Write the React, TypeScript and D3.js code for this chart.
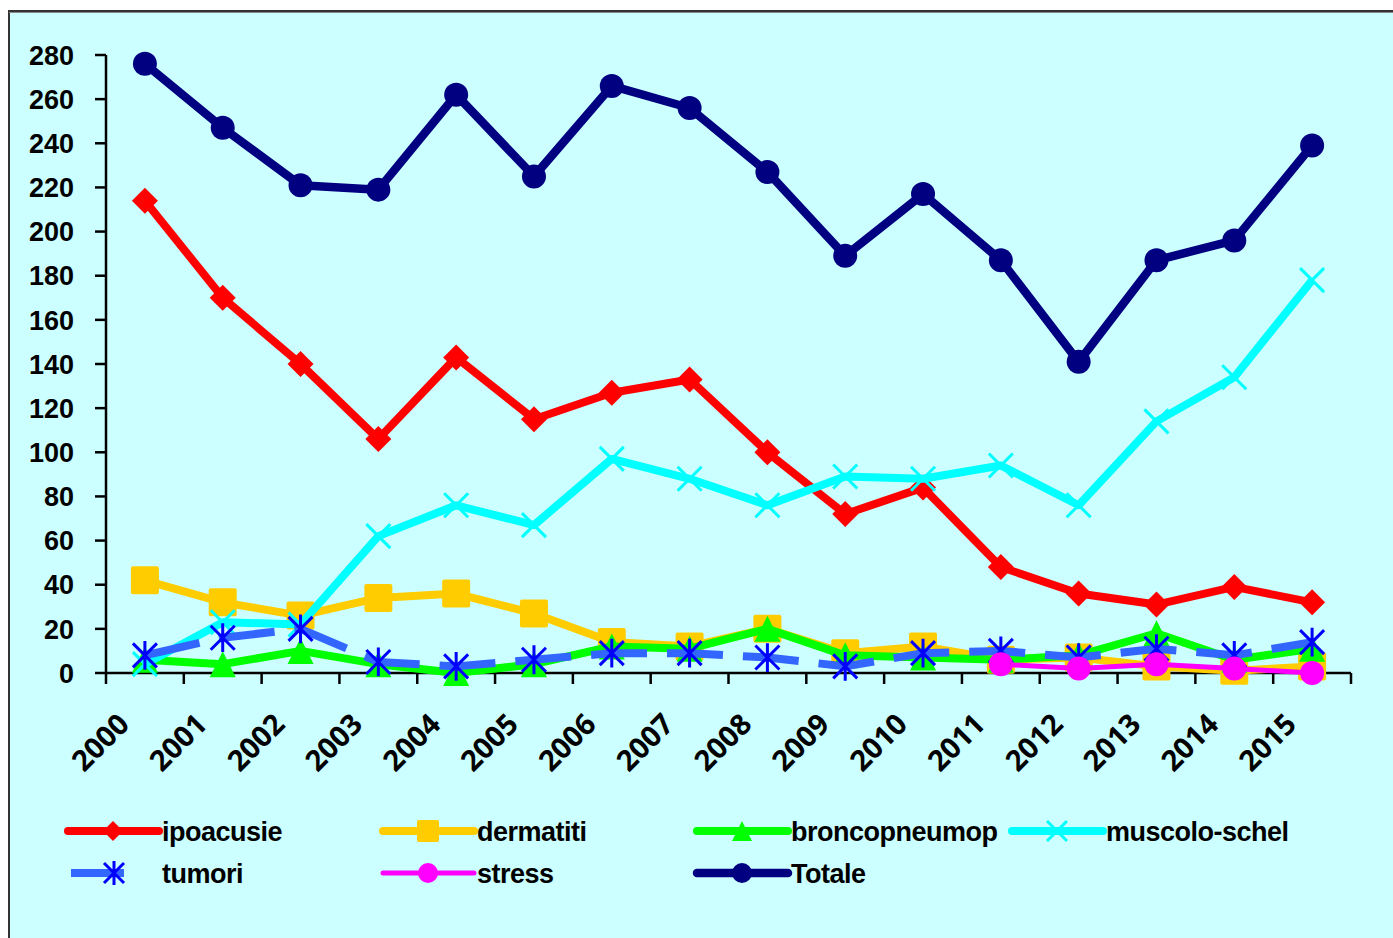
import React from 'react';
import * as d3 from 'd3';

const years = ['2000','2001','2002','2003','2004','2005','2006','2007','2008','2009','2010','2011','2012','2013','2014','2015'];
const ipoacusie = [214,170,140,106,143,115,127,133,100,72,84,48,36,31,39,32];
const dermatiti = [42,32,26,34,36,27,14,12,20,9,12,6,7,3,1,3];
const broncopneumop = [6,4,10,4,0,4,12,11,20,8,7,6,8,18,6,11];
const muscoloSchel = [4,23,22,62,76,67,97,88,76,89,88,94,76,114,134,178];
const tumori = [8,16,20,5,3,6,9,9,7,3,9,10,7,11,8,14];
const stress: (number | null)[] = [null,null,null,null,null,null,null,null,null,null,null,4,2,4,2,0];
const totale = [276,247,221,219,262,225,266,256,227,189,217,187,141,187,196,239];
const yTicks = [0,20,40,60,80,100,120,140,160,180,200,220,240,260,280];

type Marker = 'diamond' | 'square' | 'triangle' | 'x' | 'star' | 'circle';
interface Series { name: string; values: (number | null)[]; color: string; markerColor: string; width: number; marker: Marker; dash?: string; }

const series: Series[] = [
  { name: 'ipoacusie', values: ipoacusie, color: '#FF0000', markerColor: '#FF0000', width: 8, marker: 'diamond' },
  { name: 'dermatiti', values: dermatiti, color: '#FFCC00', markerColor: '#FFCC00', width: 8, marker: 'square' },
  { name: 'broncopneumop', values: broncopneumop, color: '#00FF00', markerColor: '#00FF00', width: 8, marker: 'triangle' },
  { name: 'muscolo-schel', values: muscoloSchel, color: '#00FFFF', markerColor: '#00FFFF', width: 8, marker: 'x' },
  { name: 'tumori', values: tumori, color: '#3366FF', markerColor: '#0000FF', width: 8, marker: 'star', dash: '56 20' },
  { name: 'stress', values: stress, color: '#FF00FF', markerColor: '#FF00FF', width: 5, marker: 'circle' },
  { name: 'Totale', values: totale, color: '#000080', markerColor: '#000080', width: 8.5, marker: 'circle' },
];

function drawMarker(m: Marker, cx: number, cy: number, color: string, s: number, key?: string | number) {
  const h = s / 2;
  switch (m) {
    case 'diamond':
      return <path key={key} d={`M${cx},${cy - h}L${cx + h},${cy}L${cx},${cy + h}L${cx - h},${cy}Z`} fill={color} />;
    case 'square':
      return <rect key={key} x={cx - h} y={cy - h} width={s} height={s} fill={color} rx={2} />;
    case 'triangle':
      return <path key={key} d={`M${cx},${cy - h}L${cx + h},${cy + h}L${cx - h},${cy + h}Z`} fill={color} />;
    case 'x':
      return <path key={key} d={`M${cx - h},${cy - h}L${cx + h},${cy + h}M${cx + h},${cy - h}L${cx - h},${cy + h}`} stroke={color} strokeWidth={3} fill="none" />;
    case 'star':
      return <path key={key} d={`M${cx - h},${cy - h}L${cx + h},${cy + h}M${cx + h},${cy - h}L${cx - h},${cy + h}M${cx},${cy - h * 1.2}L${cx},${cy + h * 1.2}`} stroke={color} strokeWidth={3} fill="none" />;
    case 'circle':
      return <circle key={key} cx={cx} cy={cy} r={h} fill={color} />;
  }
}

const markerSize: Record<Marker, number> = { diamond: 26, square: 28, triangle: 26, x: 24, star: 24, circle: 24 };

export default function App() {
  const W = 1393, H = 938;
  const x = d3.scaleBand<string>().domain(years).range([106, 1351]).padding(0);
  const bw = x.bandwidth();
  const cx = (yr: string) => (x(yr) as number) + bw / 2;
  const y = d3.scaleLinear().domain([0, 280]).range([673, 55]);
  const line = d3.line<number | null>()
    .defined(d => d !== null)
    .x((_, i) => cx(years[i]))
    .y(d => y(d as number));

  const legend = [
    { s: series[0], lx: 68, ly: 831 },
    { s: series[1], lx: 383, ly: 831 },
    { s: series[2], lx: 697, ly: 831 },
    { s: series[3], lx: 1012, ly: 831 },
    { s: series[4], lx: 68, ly: 873 },
    { s: series[5], lx: 383, ly: 873 },
    { s: series[6], lx: 697, ly: 873 },
  ];

  const font = "'Liberation Sans', Arial, sans-serif";

  return (
    <svg width={W} height={H} style={{ position: 'absolute', left: 0, top: 0 }} xmlns="http://www.w3.org/2000/svg">
      <rect x={0} y={0} width={W} height={H} fill="#FFFFFF" />
      <rect x={9} y={11} width={W + 10} height={H + 10} fill="#CCFFFF" stroke="#333333" strokeWidth={2} />
      <line x1={9} y1={12.5} x2={W} y2={12.5} stroke="#888" strokeWidth={1} />

      {/* Y axis */}
      <line x1={106} y1={y(280)} x2={106} y2={y(0)} stroke="#000" strokeWidth={2.5} />
      {yTicks.map(t => (
        <g key={t}>
          <line x1={95} x2={106} y1={y(t)} y2={y(t)} stroke="#000" strokeWidth={2.5} />
          <text x={74} y={y(t)} dy="0.36em" textAnchor="end" fontFamily={font} fontWeight="bold" fontSize={27} fill="#000">{t}</text>
        </g>
      ))}

      {/* X axis */}
      <line x1={106} y1={y(0)} x2={1351} y2={y(0)} stroke="#000" strokeWidth={2.5} />
      {[...years, 'end'].map((yr, i) => {
        const tx = 106 + i * bw;
        return <line key={yr} x1={tx} x2={tx} y1={y(0)} y2={y(0) + 11} stroke="#000" strokeWidth={2.5} />;
      })}
      {years.map(yr => (
        <text key={yr} transform={`translate(${cx(yr) - 14},${726}) rotate(-45)`} textAnchor="end"
          fontFamily="'Open Sans', sans-serif" fontWeight="bold" fontSize={29} fill="#000">{yr}</text>
      ))}

      {/* Series */}
      {series.map(s => (
        <g key={s.name}>
          <path d={line(s.values) || ''} fill="none" stroke={s.color} strokeWidth={s.width}
            strokeDasharray={s.dash} strokeLinejoin="round" />
          {s.values.map((v, i) => v === null ? null :
            drawMarker(s.marker, cx(years[i]), y(v), s.markerColor, markerSize[s.marker], i))}
        </g>
      ))}

      {/* Legend */}
      {legend.map(({ s, lx, ly }) => (
        <g key={s.name}>
          {s.name === 'tumori'
            ? <line x1={71} x2={124} y1={ly} y2={ly} stroke={s.color} strokeWidth={8} />
            : <line x1={lx} x2={lx + 91} y1={ly} y2={ly} stroke={s.color} strokeWidth={s.width} strokeLinecap="round" />}
          {drawMarker(s.marker, s.name === 'tumori' ? 114 : lx + 45, ly, s.markerColor, s.marker === 'square' ? 22 : 20)}
          <text x={s.name === 'tumori' ? 162 : lx + 94} y={ly + 10} fontFamily={font} fontWeight="bold" fontSize={27} letterSpacing={-0.5} fill="#000">{s.name}</text>
        </g>
      ))}
    </svg>
  );
}
